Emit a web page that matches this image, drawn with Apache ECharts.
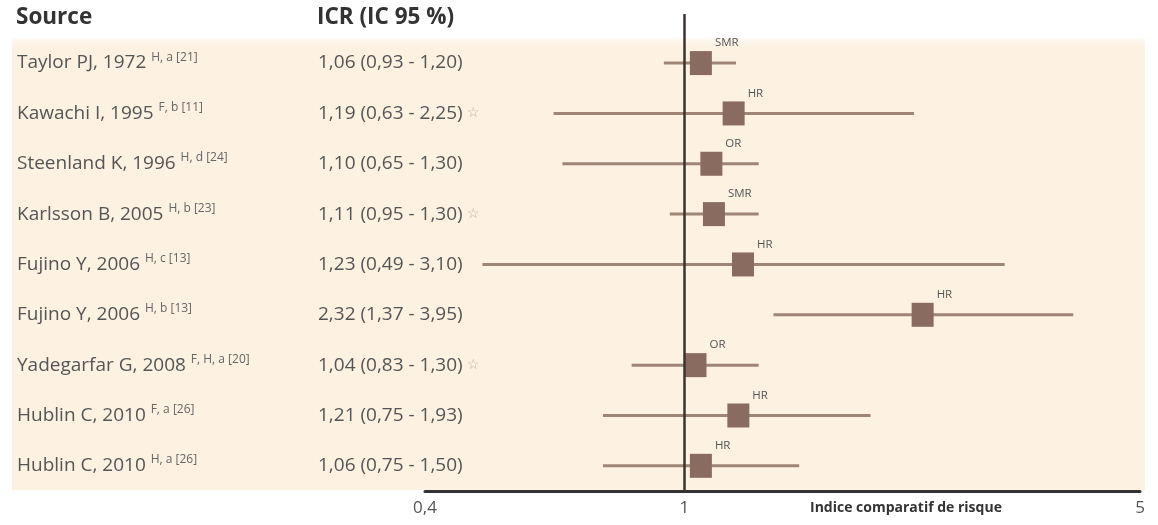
<!DOCTYPE html>
<html>
<head>
<meta charset="utf-8">
<script src="https://cdn.jsdelivr.net/npm/echarts@6/dist/echarts.min.js"></script>
<style>
html,body{margin:0;padding:0;background:#fff;}
#chart{width:1158px;height:525px;}
</style>
</head>
<body>
<div id="chart"></div>
<script>
// ---- data ----
const sources = ['Taylor PJ, 1972', 'Kawachi I, 1995', 'Steenland K, 1996', 'Karlsson B, 2005', 'Fujino Y, 2006', 'Fujino Y, 2006', 'Yadegarfar G, 2008', 'Hublin C, 2010', 'Hublin C, 2010'];
const notes = ['H, a [21]', 'F, b [11]', 'H, d [24]', 'H, b [23]', 'H, c [13]', 'H, b [13]', 'F, H, a [20]', 'F, a [26]', 'H, a [26]'];
const icr = [1.06, 1.19, 1.10, 1.11, 1.23, 2.32, 1.04, 1.21, 1.06];
const low = [0.93, 0.63, 0.65, 0.95, 0.49, 1.37, 0.83, 0.75, 0.75];
const high = [1.20, 2.25, 1.30, 1.30, 3.10, 3.95, 1.30, 1.93, 1.50];
const types = ['SMR', 'HR', 'OR', 'SMR', 'HR', 'HR', 'OR', 'HR', 'HR'];
const starred = [false, true, false, true, false, false, true, false, false];
const xTicks = [0.4, 1, 5];
const headers = ['Source', 'ICR (IC 95 %)'];
const xTitle = 'Indice comparatif de risque';

const FONT = 'Open Sans';
const rows = sources.map((_, i) => i);
const fmt = v => v.toFixed(2).replace('.', ',');
const fmtTick = v => String(v).replace('.', ',');

const chart = echarts.init(document.getElementById('chart'), null, {renderer: 'canvas'});

const yBase = {
  type: 'value', inverse: true, min: -0.975, max: 8.5,
  axisLine: {show: false}, axisTick: {show: false}, splitLine: {show: false}
};

const option = {
  animation: false,
  backgroundColor: '#ffffff',
  textStyle: {fontFamily: FONT},
  grid: {left: 425, right: 18, top: 14, bottom: 34, containLabel: false},
  xAxis: {
    type: 'log', logBase: 10, min: 0.4, max: 5,
    axisLine: {show: true, onZero: false, lineStyle: {color: '#333', width: 3}},
    axisTick: {show: false},
    splitLine: {show: false},
    axisLabel: {
      customValues: xTicks,
      formatter: v => fmtTick(Math.round(v * 100) / 100),
      color: '#555', fontSize: 17, fontFamily: FONT, margin: 9
    }
  },
  yAxis: [
    Object.assign({}, yBase, {
      position: 'left',
      axisLabel: {
        customValues: rows,
        margin: 408, align: 'left',
        formatter: v => '{n|' + sources[v] + ' }{s|' + notes[v] + '}',
        rich: {
          n: {fontSize: 19, color: '#555', fontFamily: FONT, lineHeight: 24},
          s: {fontSize: 12, color: '#666', fontFamily: FONT, verticalAlign: 'top', lineHeight: 24, padding: [0, 0, 6, 0]}
        }
      }
    }),
    Object.assign({}, yBase, {
      position: 'left', offset: 0,
      axisLabel: {
        customValues: rows,
        margin: 107, align: 'left',
        formatter: v => '{n|' + fmt(icr[v]) + ' (' + fmt(low[v]) + ' - ' + fmt(high[v]) + ')}' + (starred[v] ? '{t| ☆}' : ''),
        rich: {
          n: {fontSize: 19, color: '#555', fontFamily: FONT},
          t: {fontSize: 14, color: '#bbb0a0', fontFamily: 'DejaVu Sans'}
        }
      }
    })
  ],
  graphic: [
    {type: 'rect', z: -10, silent: true, shape: {x: 12, y: 38, width: 1133, height: 452},
      style: {fill: new echarts.graphic.LinearGradient(0, 0, 0, 1, [
        {offset: 0, color: '#fefaf4'}, {offset: 0.02, color: '#fdf1e2'}, {offset: 1, color: '#fdf1e2'}])}},
    {type: 'text', left: 16, top: 6, silent: true,
      style: {text: headers[0], fontSize: 22.5, fontWeight: 'bold', fill: '#333', fontFamily: FONT}},
    {type: 'text', left: 317, top: 6, silent: true,
      style: {text: headers[1], fontSize: 22.5, fontWeight: 'bold', fill: '#333', fontFamily: FONT}},
    {type: 'text', left: 810, top: 501, silent: true,
      style: {text: xTitle, fontSize: 14, fontWeight: 'bold', fill: '#333', fontFamily: FONT}}
  ],
  series: [
    {
      type: 'custom',
      name: 'ci',
      z: 2,
      encode: {x: [0, 1], y: 2},
      data: rows.map(i => [low[i], high[i], i]),
      renderItem: (params, api) => {
        const p1 = api.coord([api.value(0), api.value(2)]);
        const p2 = api.coord([api.value(1), api.value(2)]);
        return {type: 'line', shape: {x1: p1[0], y1: p1[1], x2: p2[0], y2: p2[1]},
          style: {stroke: '#9e8576', lineWidth: 3}};
      }
    },
    {
      type: 'line',
      name: 'ref',
      z: 3,
      data: [],
      markLine: {
        silent: true, symbol: 'none',
        label: {show: false},
        lineStyle: {color: '#3b3333', width: 2.5, type: 'solid'},
        data: [{xAxis: 1}]
      }
    },
    {
      type: 'scatter',
      name: 'icr',
      z: 4,
      symbol: 'rect',
      symbolSize: [22, 24],
      itemStyle: {color: '#8a6b60', opacity: 1},
      data: rows.map(i => [icr[i], i]),
      label: {
        show: true,
        position: [25, -14],
        align: 'left', verticalAlign: 'top',
        formatter: p => types[p.dataIndex],
        fontSize: 11.5, color: '#555', fontFamily: FONT
      }
    }
  ]
};
chart.setOption(option);
</script>
</body>
</html>
